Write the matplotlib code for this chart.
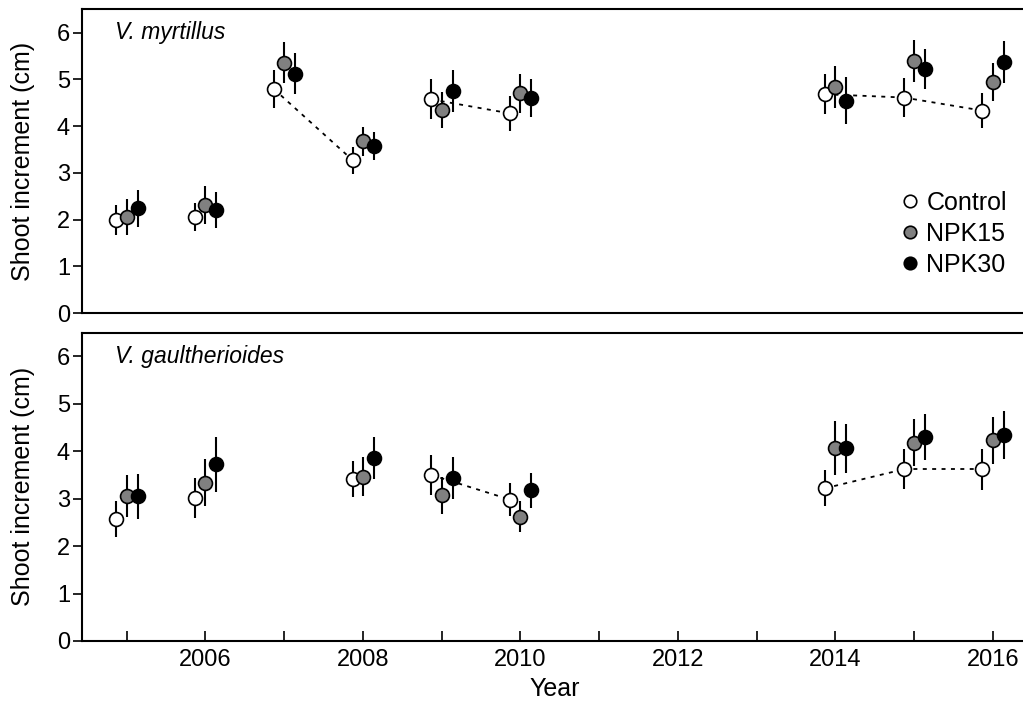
import matplotlib.pyplot as plt
from matplotlib.lines import Line2D
import numpy as np

plt.rcParams['font.family'] = ['Liberation Sans', 'DejaVu Sans']

# treatment order and styling
treatments = ["Control", "NPK15", "NPK30"]
fills = ["white", "#808080", "black"]
offsets = [-0.13, 0.0, 0.14]

# V. myrtillus
years_m = [2005, 2006, 2007, 2008, 2009, 2010, 2014, 2015, 2016]
mean_m = {
    "Control": [1.99, 2.06, 4.79, 3.27, 4.57, 4.27, 4.68, 4.61, 4.33],
    "NPK15":   [2.06, 2.31, 5.35, 3.67, 4.34, 4.70, 4.84, 5.39, 4.94],
    "NPK30":   [2.24, 2.21, 5.12, 3.58, 4.75, 4.60, 4.54, 5.22, 5.37],
}
err_m = {
    "Control": [0.33, 0.30, 0.41, 0.29, 0.43, 0.37, 0.43, 0.42, 0.37],
    "NPK15":   [0.38, 0.40, 0.44, 0.31, 0.39, 0.42, 0.45, 0.45, 0.40],
    "NPK30":   [0.40, 0.38, 0.44, 0.30, 0.44, 0.40, 0.50, 0.43, 0.44],
}
links_m = [(2007, 2008), (2009, 2010), (2014, 2015), (2015, 2016)]

# V. gaultherioides
years_g = [2005, 2006, 2008, 2009, 2010, 2014, 2015, 2016]
mean_g = {
    "Control": [2.58, 3.02, 3.41, 3.50, 2.98, 3.22, 3.62, 3.62],
    "NPK15":   [3.05, 3.34, 3.46, 3.07, 2.62, 4.07, 4.18, 4.23],
    "NPK30":   [3.05, 3.73, 3.86, 3.44, 3.18, 4.06, 4.30, 4.35],
}
err_g = {
    "Control": [0.38, 0.42, 0.38, 0.42, 0.35, 0.38, 0.42, 0.43],
    "NPK15":   [0.44, 0.49, 0.41, 0.39, 0.33, 0.57, 0.50, 0.50],
    "NPK30":   [0.47, 0.58, 0.44, 0.44, 0.37, 0.51, 0.49, 0.51],
}
links_g = [(2009, 2010), (2014, 2015), (2015, 2016)]

fig = plt.figure(figsize=(10.23, 7.02), dpi=100)
ax1 = fig.add_axes([0.080, 0.554, 0.925, 0.433])
ax2 = fig.add_axes([0.080, 0.087, 0.925, 0.439])


def draw_panel(ax, years, means, errs, links, title, title_y):
    years = np.array(years)
    ctrl = means["Control"]
    for a, b in links:
        i, j = list(years).index(a), list(years).index(b)
        ax.plot([a + offsets[0], b + offsets[0]], [ctrl[i], ctrl[j]],
                ls=(0, (2.2, 3)), color="black", lw=1.3, zorder=1)
    for k, t in enumerate(treatments):
        ax.errorbar(years + offsets[k], means[t], yerr=errs[t], fmt="o",
                    ms=10, mfc=fills[k], mec="black", mew=1.2,
                    ecolor="black", elinewidth=1.5, capsize=0,
                    zorder=2 + k)
    ax.set_xlim(2004.43, 2016.45)
    ax.set_ylim(0, 6.5)
    ax.set_yticks(range(7))
    ax.spines["right"].set_visible(False)
    for s in ["left", "top", "bottom"]:
        ax.spines[s].set_linewidth(1.5)
    ax.tick_params(axis="y", direction="out", length=6.5, width=1.2,
                   labelsize=17, pad=2)
    ax.set_ylabel("Shoot increment (cm)", fontsize=18)
    ax.yaxis.set_label_coords(-0.049, 0.5)
    ax.text(0.035, title_y, title, transform=ax.transAxes, style="italic",
            fontsize=16.5, va="center", ha="left")


draw_panel(ax1, years_m, mean_m, err_m, links_m, "V. myrtillus", 0.924)
draw_panel(ax2, years_g, mean_g, err_g, links_g, "V. gaultherioides", 0.922)

ax1.tick_params(axis="x", bottom=False, labelbottom=False)
ax2.set_xticks(range(2005, 2017))
ax2.set_xticklabels([str(y) if y % 2 == 0 else "" for y in range(2005, 2017)])
ax2.tick_params(axis="x", direction="in", length=7, width=1.2,
                labelsize=17, pad=6)
ax2.set_xlabel("Year", fontsize=18, labelpad=4)

handles = [Line2D([], [], ls="none", marker="o", ms=9, mfc=f, mec="black",
                  mew=1.2) for f in fills]
ax1.legend(handles, treatments, loc="center left",
           bbox_to_anchor=(0.862, 0.26), frameon=False, fontsize=18,
           handletextpad=0.15, handlelength=1.0, labelspacing=0.28,
           borderaxespad=0, borderpad=0)

fig.savefig("out.png", dpi=100)
